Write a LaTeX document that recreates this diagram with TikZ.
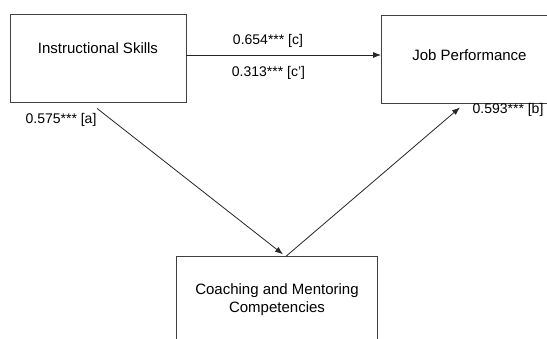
\documentclass[tikz,border=0pt]{standalone}
\usepackage{fontspec}
\setmainfont{Liberation Sans}
\usetikzlibrary{arrows.meta}

\begin{document}
\begin{tikzpicture}[x=1pt, y=-1pt,
    box/.style = {draw=black!75, line width=0.8pt, rectangle, minimum height=88pt, inner sep=0pt, font=\fontsize{15}{18}\selectfont, align=center},
    coef/.style = {font=\fontsize{14}{16}\selectfont, inner sep=0pt},
    path/.style = {black!85, line width=0.8pt, -{Latex[length=8pt,width=6pt]}}]
    \useasboundingbox (0,0) rectangle (547,338);
    \clip (0,0) rectangle (547,338);
    \fill[white] (0,0) rectangle (547,338);
    \node[box, minimum width=176pt, text height=11pt, text depth=20pt] (skills) at (98,58) {Instructional Skills};
    \node[box, minimum width=176pt, text height=11pt, text depth=8pt] (perf) at (469.5,59) {Job Performance};
    \node[box, minimum width=200.5pt, minimum height=85pt] (coach) at (277,299.2) {Coaching and Mentoring\\Competencies};
    \draw[path] ([yshift=3pt]skills.east) -- ([yshift=3pt]skills.east -| perf.west);
    \draw[path] ([xshift=-1pt,yshift=-6pt]skills.south) -- ([xshift=6pt,yshift=2pt]coach.north);
    \draw[path] ([xshift=9pt]coach.north) -- ([xshift=-9.5pt,yshift=-4pt]perf.south);
    \node[coef] (c) at (268,40.5) {0.654*** [c]};
    \node[coef] (cprime) at (268.5,72.5) {0.313*** [c’]};
    \node[coef] (a) at (61,120) {0.575*** [a]};
    \node[coef] (b) at (508,110) {0.593*** [b]};
\end{tikzpicture}
\end{document}
